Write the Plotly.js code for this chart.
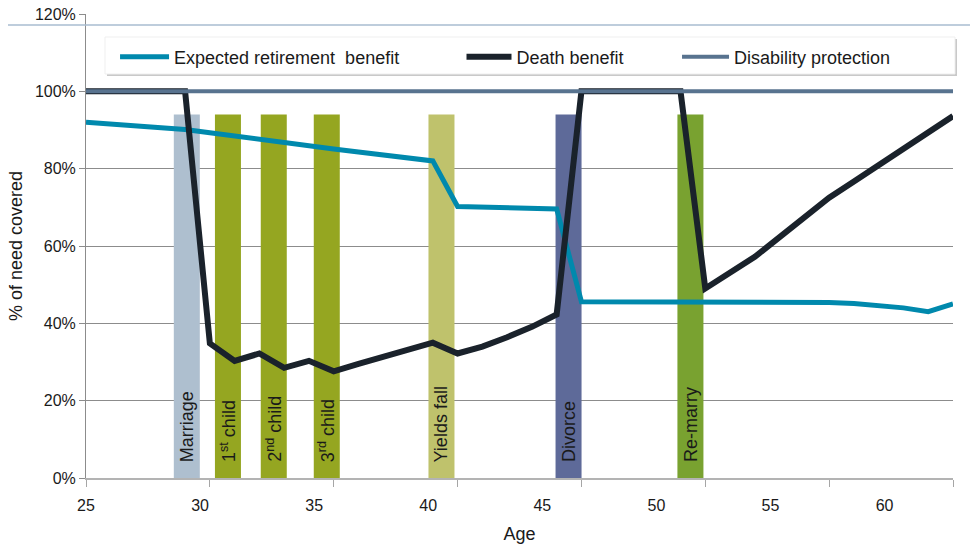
<!DOCTYPE html>
<html>
<head>
<meta charset="utf-8">
<script src="https://cdn.plot.ly/plotly-3.0.1.min.js"></script>
<style>
  html, body { margin: 0; padding: 0; background: #ffffff; }
  #chart { width: 970px; height: 545px; }
</style>
</head>
<body>
<div id="chart"></div>
<script>
// Timeline steps (one point per step), plotted on the lower axis
const steps = [0,1,2,3,4,5,6,7,8,9,10,11,12,13,14,15,16,17,18,19,20,
               21,22,23,24,25,26,27,28,29,30,31,32,33,34,35];

// % of need covered, per step
const retirement = [92.0,91.6,91.1,90.8,90.1,89.3,88.4,87.6,86.8,85.9,85.1,
                    84.3,83.5,82.7,82.0,70.2,70.1,69.9,69.9,69.6,45.6,
                    45.6,45.6,45.6,45.6,45.6,45.6,45.6,45.6,45.6,45.4,
                    45.1,44.7,44.0,43.0,45.0];
const death = [100,100,100,100,100,34.8,30.3,32.2,28.5,30.3,27.6,
               29.5,31.3,33.2,35.0,32.2,34.0,36.4,39.1,42.3,100,
               100,100,100,100,49.0,53.1,57.2,62.3,67.5,72.5,
               76.7,80.9,85.2,89.4,93.6];
const disability = [100,100,100,100,100,100,100,100,100,100,100,
                    100,100,100,100,100,100,100,100,100,100,
                    100,100,100,100,100,100,100,100,100,100,
                    100,100,100,100,100];

// Life events shown as columns
const events = ['Marriage','1<sup>st</sup> child','2<sup>nd</sup> child','3<sup>rd</sup> child',
                'Yields fall','Divorce','Re-marry'];
const eventStep = [4.07,5.73,7.58,9.72,14.35,19.48,24.4];
const eventLevel = [94,94,94,94,94,94,94];

// Age labels along the bottom
const ageTicks = [25,30,35,40,45,50,55,60];
const ageRange = [25,63];

const eventColors = ['#aebfcf','#95a621','#95a621','#95a621','#bfc26c','#5e6a99','#79a230'];
const FONT = 'Liberation Sans, Arial, Helvetica, sans-serif';
const TEXT = '#1a1a1a';

const traces = [
  {
    type: 'bar', x: eventStep, y: eventLevel, width: 1.05,
    marker: { color: eventColors, line: { width: 0 } },
    showlegend: false, hoverinfo: 'skip'
  },
  {
    type: 'scatter', mode: 'lines', name: 'Expected retirement  benefit',
    x: steps, y: retirement, legend: 'legend',
    line: { color: '#0089ad', width: 5 }
  },
  {
    type: 'scatter', mode: 'lines', name: 'Death benefit',
    x: steps, y: death, legend: 'legend2',
    line: { color: '#1a222b', width: 6 }
  },
  {
    type: 'scatter', mode: 'lines', name: 'Disability protection',
    x: steps, y: disability, legend: 'legend3',
    line: { color: '#58738f', width: 4 }
  },
  // carrier for the age axis (draws nothing)
  {
    type: 'scatter', mode: 'markers', xaxis: 'x2', yaxis: 'y',
    x: ageTicks, y: ageTicks.map(() => null),
    marker: { opacity: 0 }, showlegend: false, hoverinfo: 'skip'
  }
];

const annotations = events.map((t, i) => ({
  x: eventStep[i], y: 0, xref: 'x', yref: 'y',
  text: t, showarrow: false, textangle: -90,
  xanchor: 'center', yanchor: 'bottom', yshift: 14,
  font: { family: FONT, size: 18, color: TEXT }
}));

const legendBase = {
  orientation: 'h', xanchor: 'left', yanchor: 'middle', y: 0.9073,
  bgcolor: 'rgba(0,0,0,0)', borderwidth: 0,
  font: { family: FONT, size: 18, color: TEXT }
};

const layout = {
  width: 970, height: 545,
  margin: { l: 86, r: 17, t: 14, b: 67, pad: 0 },
  paper_bgcolor: '#ffffff', plot_bgcolor: '#ffffff',
  font: { family: FONT, size: 16, color: TEXT },
  barmode: 'overlay',
  showlegend: true,
  legend:  Object.assign({}, legendBase, { x: 0.0335, itemwidth: 49 }),
  legend2: Object.assign({}, legendBase, { x: 0.4331, itemwidth: 45 }),
  legend3: Object.assign({}, legendBase, { x: 0.6817, itemwidth: 47 }),
  xaxis: {
    range: [0, 35], tick0: 0, dtick: 5,
    ticks: 'outside', ticklen: 7, tickwidth: 1, tickcolor: '#a6a6a6',
    showticklabels: false, showgrid: false, zeroline: false,
    showline: true, linecolor: '#b3b3b3', linewidth: 2
  },
  xaxis2: {
    overlaying: 'x', anchor: 'y', side: 'bottom',
    range: ageRange, tickmode: 'array', tickvals: ageTicks, ticktext: ageTicks.map(String),
    ticks: 'outside', ticklen: 13, tickcolor: 'rgba(0,0,0,0)',
    showgrid: false, zeroline: false, showline: false,
    tickfont: { family: FONT, size: 16, color: TEXT },
    title: { text: 'Age', font: { family: FONT, size: 18, color: TEXT }, standoff: 14 }
  },
  yaxis: {
    range: [0, 120], tick0: 0, dtick: 20, ticksuffix: '%',
    ticks: 'outside', ticklen: 6, tickwidth: 1, tickcolor: '#8c8c8c',
    showgrid: true, gridcolor: '#8c8c8c', gridwidth: 1,
    zeroline: false, showline: true, linecolor: '#8c8c8c', linewidth: 1,
    tickfont: { family: FONT, size: 16, color: TEXT },
    title: { text: '% of need covered', font: { family: FONT, size: 18, color: TEXT }, standoff: 7 }
  },
  shapes: [
    // thin rule across the top of the slide
    { type: 'line', xref: 'paper', yref: 'paper', x0: -0.09, x1: 1.0196, y0: 0.9763, y1: 0.9763,
      line: { color: '#a9bdd1', width: 1.5 }, layer: 'above' },
    // legend panel shadow and panel
    { type: 'rect', xref: 'paper', yref: 'paper', x0: 0.0242, x1: 1.0046, y0: 0.8664, y1: 0.946,
      fillcolor: '#c9c9c9', line: { width: 0 }, layer: 'above' },
    { type: 'rect', xref: 'paper', yref: 'paper', x0: 0.0219, x1: 1.0023, y0: 0.8707, y1: 0.9504,
      fillcolor: '#ffffff', line: { color: '#efefef', width: 1 }, layer: 'above' }
  ],
  annotations: annotations
};

Plotly.newPlot('chart', traces, layout, { staticPlot: true, displayModeBar: false });
</script>
</body>
</html>
